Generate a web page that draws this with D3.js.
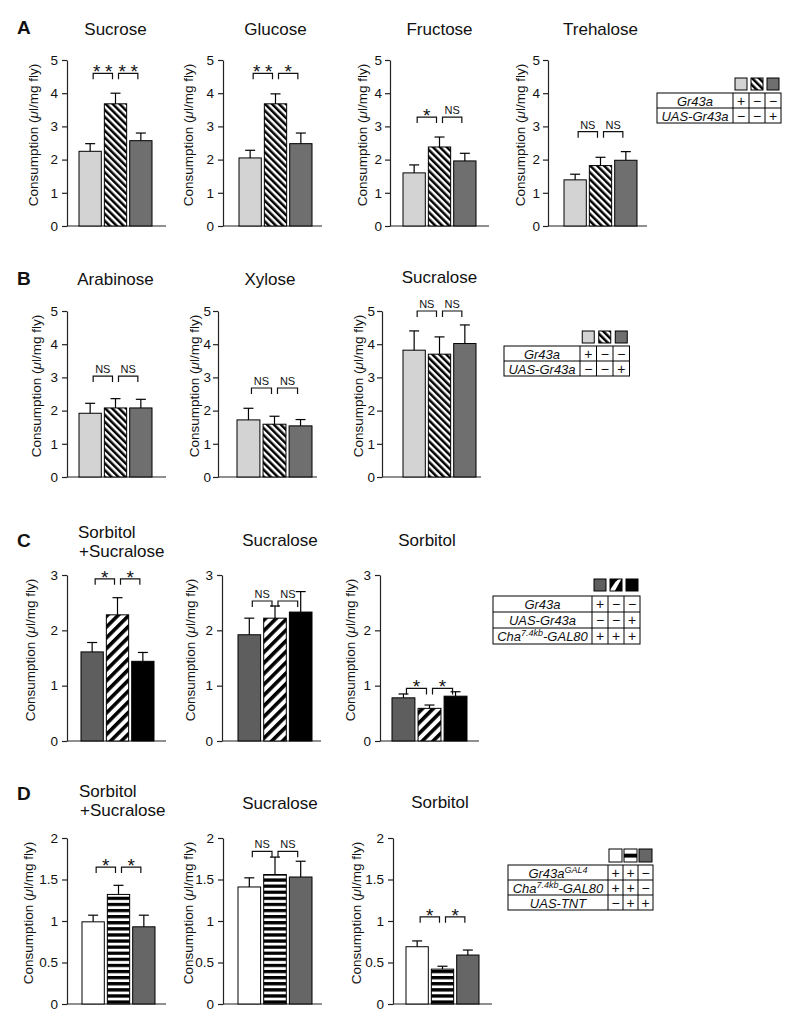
<!DOCTYPE html>
<html><head><meta charset="utf-8">
<script src="https://cdn.jsdelivr.net/npm/d3@7"></script>
<style>
body{margin:0;background:#fff}
text{font-family:"Liberation Sans",Arial,Helvetica,sans-serif;fill:#111}
</style>
</head><body>
<svg id="c" width="800" height="1025"></svg>
<script>
// ---------------- DATA ----------------
const ticksAB = [0,1,2,3,4,5];
const ticksC = [0,1,2,3];
const ticksD = [0,0.5,1,1.5,2];

// Panel A
const sucroseA = [2.25, 3.68, 2.57];   const sucroseASem = [0.23, 0.32, 0.23];  const sucroseASig = ["**","**"];
const glucoseA = [2.05, 3.68, 2.48];   const glucoseASem = [0.23, 0.30, 0.32];  const glucoseASig = ["**","*"];
const fructoseA = [1.60, 2.38, 1.96];  const fructoseASem = [0.24, 0.30, 0.23]; const fructoseASig = ["*","NS"];
const trehaloseA = [1.39, 1.82, 1.98]; const trehaloseASem = [0.17, 0.25, 0.26];const trehaloseASig = ["NS","NS"];
// Panel B
const arabinoseB = [1.92, 2.08, 2.08]; const arabinoseBSem = [0.30, 0.28, 0.26];const arabinoseBSig = ["NS","NS"];
const xyloseB = [1.72, 1.59, 1.54];    const xyloseBSem = [0.35, 0.24, 0.19];   const xyloseBSig = ["NS","NS"];
const sucraloseB = [3.82, 3.70, 4.02]; const sucraloseBSem = [0.58, 0.52, 0.56];const sucraloseBSig = ["NS","NS"];
// Panel C
const sorSucC = [1.61, 2.28, 1.44];    const sorSucCSem = [0.17, 0.31, 0.16];   const sorSucCSig = ["*","*"];
const sucraloseC = [1.92, 2.22, 2.33]; const sucraloseCSem = [0.30, 0.22, 0.37];const sucraloseCSig = ["NS","NS"];
const sorbitolC = [0.78, 0.59, 0.81];  const sorbitolCSem = [0.07, 0.06, 0.08]; const sorbitolCSig = ["*","*"];
// Panel D
const sorSucD = [0.99, 1.32, 0.93];    const sorSucDSem = [0.08, 0.11, 0.14];   const sorSucDSig = ["*","*"];
const sucraloseD = [1.41, 1.56, 1.53]; const sucraloseDSem = [0.11, 0.21, 0.19];const sucraloseDSig = ["NS","NS"];
const sorbitolD = [0.69, 0.42, 0.59];  const sorbitolDSem = [0.07, 0.035, 0.06];const sorbitolDSig = ["*","*"];

// significance bracket heights (data units)
const bracketA = [4.6, 4.6, 3.28, 2.84];
const bracketB = [3.04, 2.68, 5.0];
const bracketC = [2.93, 2.53, 0.95];
const bracketD = [1.65, 1.84, 1.05];

// legends
const legendRowsAB = ["Gr43a", "UAS-Gr43a"];
const legendSignsAB = [["+","−","−"],["−","−","+"]];
const legendRowsC = ["Gr43a", "UAS-Gr43a", "Cha|7.4kb|-GAL80"];
const legendSignsC = [["+","−","−"],["−","−","+"],["+","+","+"]];
const legendRowsD = ["Gr43a|GAL4", "Cha|7.4kb|-GAL80", "UAS-TNT"];
const legendSignsD = [["+","+","−"],["+","+","−"],["−","+","+"]];

const yLabel = "Consumption (";

// ---------------- DRAWING ----------------
const svg = d3.select("#c");
const defs = svg.append("defs");
function stripePattern(id, period, black, angle) {
  const p = defs.append("pattern").attr("id", id).attr("patternUnits","userSpaceOnUse")
    .attr("width", period).attr("height", period).attr("patternTransform", `rotate(${angle})`);
  p.append("rect").attr("width", period).attr("height", period).attr("fill","#fff");
  p.append("rect").attr("width", black).attr("height", period).attr("fill","#000");
}
stripePattern("hatchAB", 4.9, 2.5, -45);
stripePattern("hatchC", 7.6, 3.6, 45);
{
  const ph = defs.append("pattern").attr("id","hstripe").attr("patternUnits","userSpaceOnUse").attr("width",6).attr("height",6.1);
  ph.append("rect").attr("width",6).attr("height",6.1).attr("fill","#fff");
  ph.append("rect").attr("width",6).attr("height",3.3).attr("fill","#000");
}

const fillsAB = ["#d3d3d3","url(#hatchAB)","#6f6f6f"];
const fillsC = ["#5e5e5e","url(#hatchC)","#000000"];
const fillsD = ["#ffffff","url(#hstripe)","#666666"];

const fmt = d => d3.format("~g")(d);

function drawChart(c) {
  const g = svg.append("g");
  const y = d3.scaleLinear().domain([0, c.max]).range([c.y0, c.y1]);
  const x = d3.scaleBand().domain([0,1,2]).range([c.ax + c.b0, c.ax + c.b1]).paddingInner(0.12);
  const bw = x.bandwidth();
  // y axis
  const ya = g.append("g").attr("transform", `translate(${c.ax},0)`)
    .call(d3.axisLeft(y).tickValues(c.ticks).tickSize(5).tickSizeOuter(0).tickPadding(c.tp || 4).tickFormat(fmt));
  ya.select(".domain").attr("stroke","#222").attr("stroke-width",1.2);
  ya.selectAll(".tick line").attr("stroke","#222").attr("stroke-width",1.2);
  ya.selectAll(".tick text").attr("font-size","13.5px").attr("fill","#111")
    .attr("font-family",'"Liberation Sans",Arial,sans-serif');
  // x axis line
  g.append("line").attr("x1", c.ax).attr("x2", c.ax + 99).attr("y1", y(0)).attr("y2", y(0))
    .attr("stroke","#222").attr("stroke-width",1.2);
  // bars
  g.selectAll("rect.bar").data(c.values).join("rect").attr("class","bar")
    .attr("x", (d,i) => x(i)).attr("width", bw)
    .attr("y", d => y(d)).attr("height", d => y(0) - y(d))
    .attr("fill", (d,i) => c.fills[i]).attr("stroke","#000").attr("stroke-width",1);
  // error bars
  c.values.forEach((v,i) => {
    const cx = x(i) + bw/2, top = y(v + c.sem[i]);
    g.append("line").attr("x1",cx).attr("x2",cx).attr("y1",y(v)).attr("y2",top).attr("stroke","#000").attr("stroke-width",1.2);
    g.append("line").attr("x1",cx-5).attr("x2",cx+5).attr("y1",top).attr("y2",top).attr("stroke","#000").attr("stroke-width",1.2);
  });
  // brackets
  const by = y(c.bracket);
  c.sig.forEach((s,i) => {
    const xa = x(i) + bw/2 + 3, xb = x(i+1) + bw/2 - 3, xm = (xa+xb)/2;
    g.append("path").attr("d", `M${xa},${by+6}V${by}H${xb}V${by+6}`)
      .attr("fill","none").attr("stroke","#111").attr("stroke-width",1.2);
    if (s === "NS") {
      g.append("text").attr("x", xm).attr("y", by - 3).attr("text-anchor","middle")
        .attr("font-size","11px").text("NS");
    } else {
      const n = s.length;
      for (let k = 0; k < n; k++) {
        const off = (k - (n-1)/2) * 12;
        g.append("text").attr("x", xm + off).attr("y", by + 5).attr("text-anchor","middle")
          .attr("font-size","19px").text("*");
      }
    }
  });
  // y label
  const ly = (c.y0 + c.y1)/2 - 8;
  const t = g.append("text").attr("transform", `translate(${c.lx},${ly}) rotate(-90)`)
    .attr("text-anchor","middle").attr("dy","0.35em").attr("font-size","13.5px");
  t.append("tspan").text(yLabel);
  t.append("tspan").attr("font-style","italic").text("μ");
  t.append("tspan").text("l/mg fly)");
  // title
  if (c.title2) {
    g.append("text").attr("x", c.tx).attr("y", c.ty).attr("font-size","17px").text(c.title);
    g.append("text").attr("x", c.tx + 1).attr("y", c.ty + 19).attr("font-size","17px").text(c.title2);
  } else {
    g.append("text").attr("x", c.tx !== undefined ? c.tx : c.ax + (c.b0+c.b1)/2).attr("y", c.ty)
      .attr("text-anchor","middle").attr("font-size","17px").text(c.title);
  }
}

function richLabel(sel, str) {
  const parts = str.split("|");
  let pending = 0;
  parts.forEach((p, i) => {
    if (!p) return;
    if (i % 2 === 1) {
      sel.append("tspan").attr("font-size","9px").attr("dy", -5).text(p);
      pending = 5;
    } else {
      const ts = sel.append("tspan").text(p);
      if (pending) { ts.attr("dy", pending); pending = 0; }
    }
  });
}

function drawLegend(L) {
  const g = svg.append("g");
  const nR = L.rows.length;
  const W = L.labelW + 3*L.colW, H = nR * L.rowH;
  // swatches
  L.fills.forEach((f,i) => {
    const sx = L.x + L.labelW + i*L.colW + (L.colW - L.sw)/2, sy = L.y - L.sw - L.sgap;
    if (L.special && L.special[i] === "cband") {
      g.append("rect").attr("x",sx).attr("y",sy).attr("width",L.sw).attr("height",L.sw).attr("fill","#000");
      const s = L.sw;
      g.append("polygon").attr("points",
        `${sx},${sy+s-1} ${sx+s*0.45},${sy+s*0.25} ${sx+s*0.72},${sy} ${sx+s*0.95},${sy} ${sx+s*0.4},${sy+s} ${sx},${sy+s}`)
        .attr("fill","#fff");
      g.append("rect").attr("x",sx).attr("y",sy).attr("width",L.sw).attr("height",L.sw).attr("fill","none").attr("stroke","#000");
    } else if (L.special && L.special[i] === "dband") {
      g.append("rect").attr("x",sx).attr("y",sy).attr("width",L.sw).attr("height",L.sw).attr("fill","#fff").attr("stroke","#000");
      g.append("rect").attr("x",sx).attr("y",sy + L.sw*0.36).attr("width",L.sw).attr("height",L.sw*0.3).attr("fill","#000");
    } else {
      g.append("rect").attr("x",sx).attr("y",sy).attr("width",L.sw).attr("height",L.sw)
        .attr("fill",f).attr("stroke","#000").attr("stroke-width",1);
    }
  });
  // table frame
  g.append("rect").attr("x",L.x).attr("y",L.y).attr("width",W).attr("height",H)
    .attr("fill","none").attr("stroke","#000").attr("stroke-width",1);
  for (let r = 1; r < nR; r++)
    g.append("line").attr("x1",L.x).attr("x2",L.x+W).attr("y1",L.y+r*L.rowH).attr("y2",L.y+r*L.rowH).attr("stroke","#000");
  for (let k = 0; k < 3; k++) {
    const cx = L.x + L.labelW + k*L.colW;
    g.append("line").attr("x1",cx).attr("x2",cx).attr("y1",L.y).attr("y2",L.y+H).attr("stroke","#000");
  }
  L.rows.forEach((lab, r) => {
    const cy = L.y + r*L.rowH + L.rowH/2;
    const t = g.append("text").attr("x", L.x + L.labelW/2).attr("y", cy + 5)
      .attr("text-anchor","middle").attr("font-style","italic").attr("font-size","13px");
    richLabel(t, lab);
    L.signs[r].forEach((s,k) => {
      g.append("text").attr("x", L.x + L.labelW + k*L.colW + L.colW/2).attr("y", cy + 5)
        .attr("text-anchor","middle").attr("font-size","14px").text(s);
    });
  });
}

// ---------------- LAYOUT ----------------
const charts = [
  // Panel A
  {ax:67,  lx:33,  y0:226, y1:60, max:5, ticks:ticksAB, b0:12, b1:85, title:"Sucrose",   ty:35, values:sucroseA,   sem:sucroseASem,   sig:sucroseASig,   bracket:bracketA[0], fills:fillsAB},
  {ax:223, lx:188, y0:226, y1:60, max:5, ticks:ticksAB, b0:16, b1:89, title:"Glucose",   ty:35, values:glucoseA,   sem:glucoseASem,   sig:glucoseASig,   bracket:bracketA[1], fills:fillsAB},
  {ax:390, lx:362, y0:226, y1:60, max:5, ticks:ticksAB, b0:13, b1:86, tp:3, title:"Fructose",  ty:35, values:fructoseA,  sem:fructoseASem,  sig:fructoseASig,  bracket:bracketA[2], fills:fillsAB},
  {ax:548, lx:520, y0:226, y1:60, max:5, ticks:ticksAB, b0:16, b1:89, tp:3, title:"Trehalose", ty:35, values:trehaloseA, sem:trehaloseASem, sig:trehaloseASig, bracket:bracketA[3], fills:fillsAB},
  // Panel B
  {ax:67,  lx:36,  y0:477, y1:311, max:5, ticks:ticksAB, b0:12, b1:85, title:"Arabinose", ty:285, values:arabinoseB, sem:arabinoseBSem, sig:arabinoseBSig, bracket:bracketB[0], fills:fillsAB},
  {ax:218, lx:194, y0:477, y1:311, max:5, ticks:ticksAB, b0:19, b1:94, tp:2, title:"Xylose",    ty:285, tx:270, values:xyloseB, sem:xyloseBSem, sig:xyloseBSig, bracket:bracketB[1], fills:fillsAB},
  {ax:382, lx:358, y0:477, y1:311, max:5, ticks:ticksAB, b0:21, b1:94, tp:2, title:"Sucralose", ty:283, values:sucraloseB, sem:sucraloseBSem, sig:sucraloseBSig, bracket:bracketB[2], fills:fillsAB},
  // Panel C
  {ax:67,  lx:30,  y0:741, y1:575, max:3, ticks:ticksC, b0:14, b1:87, title:"Sorbitol", title2:"+Sucralose", tx:78, ty:538, values:sorSucC, sem:sorSucCSem, sig:sorSucCSig, bracket:bracketC[0], fills:fillsC},
  {ax:222, lx:190, y0:741, y1:575, max:3, ticks:ticksC, b0:16, b1:90, title:"Sucralose", ty:546, tx:280, values:sucraloseC, sem:sucraloseCSem, sig:sucraloseCSig, bracket:bracketC[1], fills:fillsC},
  {ax:380, lx:350, y0:741, y1:575, max:3, ticks:ticksC, b0:12, b1:87, title:"Sorbitol",  ty:546, tx:427, values:sorbitolC, sem:sorbitolCSem, sig:sorbitolCSig, bracket:bracketC[2], fills:fillsC},
  // Panel D
  {ax:67,  lx:28,  y0:1004, y1:838, max:2, ticks:ticksD, b0:15, b1:88, title:"Sorbitol", title2:"+Sucralose", tx:79, ty:797, values:sorSucD, sem:sorSucDSem, sig:sorSucDSig, bracket:bracketD[0], fills:fillsD},
  {ax:223, lx:188, y0:1004, y1:838, max:2, ticks:ticksD, b0:15, b1:89, title:"Sucralose", ty:809, tx:280, values:sucraloseD, sem:sucraloseDSem, sig:sucraloseDSig, bracket:bracketD[1], fills:fillsD},
  {ax:393, lx:356, y0:1004, y1:838, max:2, ticks:ticksD, b0:13, b1:86, title:"Sorbitol",  ty:808, tx:440, values:sorbitolD, sem:sorbitolDSem, sig:sorbitolDSig, bracket:bracketD[2], fills:fillsD}
];
charts.forEach(drawChart);

drawLegend({x:657, y:93,  labelW:76, colW:16, rowH:15, sw:12, sgap:3, rows:legendRowsAB, signs:legendSignsAB, fills:fillsAB});
drawLegend({x:504, y:346, labelW:76, colW:16.5, rowH:15, sw:12, sgap:3, rows:legendRowsAB, signs:legendSignsAB, fills:fillsAB});
drawLegend({x:493, y:596, labelW:99, colW:16, rowH:16, sw:12, sgap:5, rows:legendRowsC, signs:legendSignsC, fills:fillsC, special:[null,"cband",null]});
drawLegend({x:508, y:865, labelW:100, colW:15, rowH:15, sw:13, sgap:3, rows:legendRowsD, signs:legendSignsD, fills:fillsD, special:[null,"dband",null]});

// panel letters
[["A",17,34],["B",17,285],["C",17,547],["D",17,800]].forEach(([l,x,y]) =>
  svg.append("text").attr("x",x).attr("y",y).attr("font-size","19px").attr("font-weight","bold").text(l));
</script>
</body></html>
